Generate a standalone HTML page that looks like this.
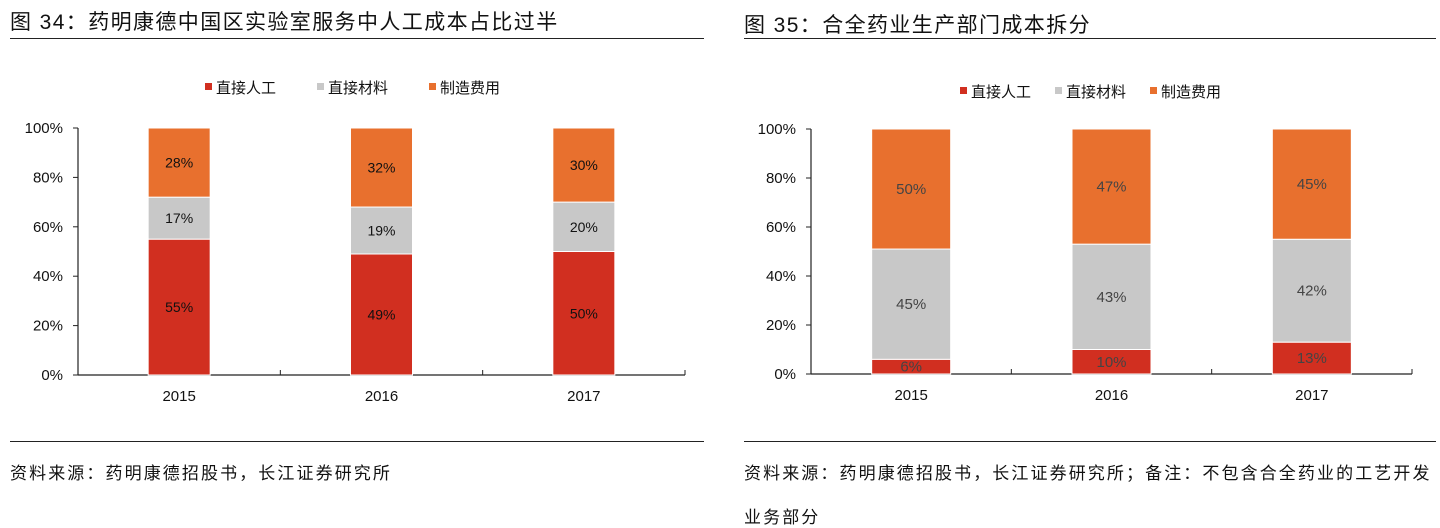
<!DOCTYPE html>
<html><head><meta charset="utf-8">
<style>
body{margin:0;width:1440px;height:526px;background:#fff;overflow:hidden;font-family:"Liberation Sans","Noto Sans CJK SC",sans-serif;}
.t{position:absolute;font-size:21px;letter-spacing:1.4px;color:#111;white-space:nowrap;}
.s{position:absolute;font-size:17px;letter-spacing:2.1px;color:#111;white-space:nowrap;}
.hr{position:absolute;height:0;border-top:1.5px solid #222;}
svg{position:absolute;left:0;top:0;}
</style></head><body>
<div class="t" style="left:10px;top:6px;">图 34：药明康德中国区实验室服务中人工成本占比过半</div>
<div class="hr" style="left:10px;top:38px;width:694px;"></div>
<div class="t" style="left:744px;top:9px;">图 35：合全药业生产部门成本拆分</div>
<div class="hr" style="left:744px;top:38px;width:692px;"></div>
<div class="hr" style="left:10px;top:441px;width:694px;border-top-width:1px;"></div>
<div class="hr" style="left:744px;top:441px;width:692px;border-top-width:1px;"></div>
<div class="s" style="left:10px;top:459px;">资料来源：药明康德招股书，长江证券研究所</div>
<div class="s" style="left:744px;top:459px;">资料来源：药明康德招股书，长江证券研究所；备注：不包含合全药业的工艺开发</div>
<div class="s" style="left:744px;top:503px;">业务部分</div>
<svg id="svg" width="1440" height="526"></svg>
<script>
const categories=["2015","2016","2017"];
const seriesNames=["直接人工","直接材料","制造费用"];
const colors=["#d12f20","#c8c8c8","#e8702e"];
const leftLabor=[55,49,50];
const leftMaterial=[17,19,20];
const leftOverhead=[28,32,30];
const rightLabor=[6,10,13];
const rightMaterial=[45,43,42];
const rightOverhead=[50,47,45];
const yTicks=[0,20,40,60,80,100];
const NS="http://www.w3.org/2000/svg";
const svg=document.getElementById('svg');
function mk(tag,attrs,name,text){const e=document.createElementNS(NS,tag);for(const k in attrs)e.setAttribute(k,attrs[k]);


if(text!==undefined)e.textContent=text;svg.appendChild(e);return e;}
function chart(cfg,series){
 const y=v=>cfg.y0-(cfg.y0-cfg.y100)*v/100;
 const cw=(cfg.x1-cfg.x0)/categories.length;
 mk('line',{x1:cfg.x0,x2:cfg.x0,y1:cfg.y100,y2:cfg.y0,stroke:'#222','stroke-width':1.2},cfg.id+'-y-axis');
 mk('line',{x1:cfg.x0,x2:cfg.x1,y1:cfg.y0,y2:cfg.y0,stroke:'#222','stroke-width':1.2},cfg.id+'-x-axis');
 yTicks.forEach(t=>{mk('line',{x1:cfg.x0-5,x2:cfg.x0,y1:y(t),y2:y(t),stroke:'#222'},cfg.id+'-y-tick');
  mk('text',{x:cfg.x0-15,y:y(t)+5,'text-anchor':'end','font-size':15,fill:'#111'},cfg.id+'-y-tick-label',t+'%');});
 for(let i=1;i<=categories.length;i++)mk('line',{x1:cfg.x0+cw*i,x2:cfg.x0+cw*i,y1:cfg.y0,y2:cfg.y0-5,stroke:'#222'},cfg.id+'-x-tick');
 categories.forEach((c,i)=>{const cx=cfg.x0+cw*(i+0.5);
  mk('text',{x:cx,y:cfg.y0+26,'text-anchor':'middle','font-size':15,fill:'#111'},cfg.id+'-x-label-'+c,c);
  let acc=0;
  series.forEach((arr,s)=>{const v=arr[i];const top=Math.min(acc+v,100);
   mk('rect',{x:cx-cfg.bw/2,y:y(top),width:cfg.bw,height:y(acc)-y(top),fill:colors[s],stroke:'#fff','stroke-width':1},cfg.id+'-bar-'+c+'-'+s);
   mk('text',{x:cx,y:(y(acc)+y(top))/2+5,'text-anchor':'middle','font-size':cfg.fs,fill:cfg.lc},cfg.id+'-value-'+c+'-'+s,v+'%');
   acc=top;});
 });
 seriesNames.forEach((n,s)=>{const lx=cfg.lx+s*cfg.ls;
  mk('rect',{x:lx,y:cfg.ly-5,width:7,height:7,fill:colors[s]},cfg.id+'-legend-marker-'+s);
  mk('text',{x:lx+11,y:cfg.ly+5,'font-size':15,fill:'#111'},cfg.id+'-legend-entry-'+s,n);});
}
chart({id:'left',x0:78,x1:685,y0:375,y100:128,bw:62,fs:14,lc:'#111',lx:205,ly:88,ls:112},[leftLabor,leftMaterial,leftOverhead]);
chart({id:'right',x0:811,x1:1412,y0:374,y100:129,bw:79,fs:15,lc:'#444',lx:960,ly:92,ls:95},[rightLabor,rightMaterial,rightOverhead]);
</script>
</body></html>
